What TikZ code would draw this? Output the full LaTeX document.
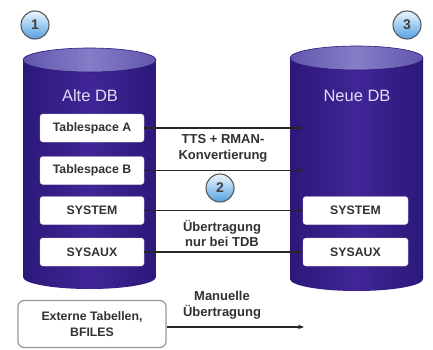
\documentclass[tikz,border=0pt]{standalone}
\usepackage{fontspec}
\setmainfont{Liberation Sans}
\usetikzlibrary{arrows.meta}
\definecolor{dbdark}{RGB}{44,24,122}
\definecolor{dbmid}{RGB}{64,38,150}
\definecolor{dbtopA}{RGB}{96,86,174}
\definecolor{dbtopB}{RGB}{134,126,200}
\definecolor{dbtitle}{RGB}{224,220,245}
\definecolor{labelgray}{RGB}{50,50,50}
\definecolor{ballhi}{RGB}{236,246,255}
\definecolor{balllo}{RGB}{84,160,226}
\tikzset{
  tsbox/.style={draw=gray!30, fill=white, rounded corners=3pt, minimum width=104pt,
    minimum height=28pt, inner sep=0pt, font=\fontsize{12.3}{13}\selectfont\bfseries,
    text=labelgray},
  extbox/.style={draw=gray!80, line width=1.2pt, fill=white, rounded corners=6pt,
    minimum width=148pt, minimum height=47pt, inner sep=0pt, align=center,
    font=\fontsize{12.3}{15.5}\selectfont\bfseries, text=labelgray},
  flow/.style={draw=black!85, line width=1.2pt, -{Stealth[length=6pt,width=4.5pt]}},
  flowlabel/.style={align=center, font=\fontsize{13}{15.5}\selectfont\bfseries, text=labelgray},
  dbtitle/.style={font=\fontsize{16.5}{18}\selectfont, text=dbtitle},
  stepball/.style={circle, draw=black!65, line width=1.1pt, minimum size=28pt, inner sep=0pt,
    top color=ballhi, bottom color=balllo, font=\fontsize{14}{14}\selectfont\bfseries,
    text=black!75},
}
\newcommand{\dbcyl}[4]{% left x, right x, top y, bottom y
  \pgfmathsetmacro{\cx}{(#1+#2)/2}
  \pgfmathsetmacro{\rx}{(#2-#1)/2}
  \shade[left color=dbdark, right color=dbdark, middle color=dbmid]
    (#1,#3) -- (#1,#4) arc[start angle=180, end angle=0, x radius=\rx, y radius=12]
    -- (#2,#3) -- cycle;
  \shade[left color=dbtopA, right color=dbtopA, middle color=dbtopB, draw=dbdark, line width=0.6pt]
    (\cx,#3) ellipse[x radius=\rx, y radius=12];
}
\begin{document}
\begin{tikzpicture}[x=1pt, y=-1pt]
  \useasboundingbox (0,0) rectangle (433,350);
  \fill[white] (0,0) rectangle (433,350);

  % the two databases
  \dbcyl{23}{156}{60}{277}
  \dbcyl{290}{423}{58}{279}
  \node[dbtitle] (old) at (90,96) {Alte DB};
  \node[dbtitle] (new) at (357,96) {Neue DB};

  % tablespaces of the source database
  \node[tsbox] (tsa) at (92,128) {Tablespace A};
  \node[tsbox] (tsb) at (92,170.5) {Tablespace B};
  \node[tsbox] (sys1) at (92,210.5) {SYSTEM};
  \node[tsbox] (aux1) at (92,252) {SYSAUX};

  % tablespaces of the target database
  \node[tsbox, minimum width=105pt] (sys2) at (355.5,210.5) {SYSTEM};
  \node[tsbox, minimum width=105pt] (aux2) at (355.5,252) {SYSAUX};

  \node[extbox] (ext) at (92,324) {Externe Tabellen,\\BFILES};

  % arrow ends inside the target database
  \coordinate (tsaend) at (303,128);
  \coordinate (tsbend) at (303,170.5);
  \coordinate (extend) at (304,327);

  \draw[flow] (tsa.east) -- (tsaend);
  \draw[flow] (tsb.east) -- (tsbend);
  \draw[flow] (sys1.east) -- (sys2.west);
  \draw[flow] (aux1.east) -- (aux2.west);
  \draw[flow] (ext.east |- extend) -- (extend);

  \node[flowlabel] (lbl1) at (223,148.5) {TTS + RMAN-\\Konvertierung};
  \node[flowlabel] (lbl2) at (222,233.5) {Übertragung\\nur bei TDB};
  \node[flowlabel] (lbl3) at (222,305) {Manuelle\\Übertragung};

  % step markers
  \node[stepball] (s1) at (35,25) {1};
  \node[stepball] (s2) at (220,188) {2};
  \node[stepball] (s3) at (407,25) {3};
\end{tikzpicture}
\end{document}
